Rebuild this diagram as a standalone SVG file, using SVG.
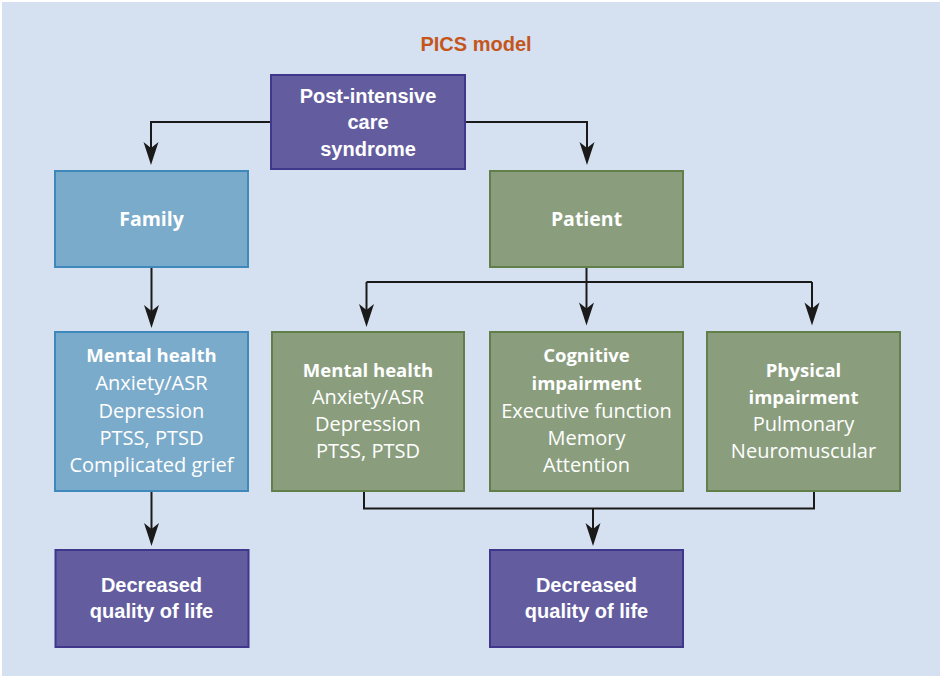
<svg xmlns="http://www.w3.org/2000/svg" width="942" height="678" viewBox="0 0 942 678">
<style>
.bg{fill:#D5E0F1}
.pur{fill:#635DA0;stroke:#3F378C;stroke-width:2}
.blu{fill:#7BABCB;stroke:#3F88BC;stroke-width:2}
.grn{fill:#8A9E7E;stroke:#627F4A;stroke-width:2}
.c{font-family:"Liberation Sans",Arial,sans-serif;font-weight:700;font-size:20px;fill:#fff;text-anchor:middle}
.h{font-family:"Open Sans","Noto Sans",sans-serif;font-weight:700;font-size:18.5px;fill:#fff;text-anchor:middle}
.hb{font-family:"Open Sans","Noto Sans",sans-serif;font-weight:700;font-size:19.5px;fill:#fff;text-anchor:middle}
.r{font-family:"Open Sans","Noto Sans",sans-serif;font-weight:400;font-size:20px;fill:#fff;text-anchor:middle}
.t{font-family:"Liberation Sans",Arial,sans-serif;font-weight:700;font-size:20px;fill:#C4561C;text-anchor:middle}
.ln{fill:none;stroke:#1A1A1A;stroke-width:2}
</style>
<defs>
<marker id="ah" markerUnits="userSpaceOnUse" viewBox="-16 -9 28 18" refX="0" refY="0" markerWidth="28" markerHeight="18" orient="auto" overflow="visible">
<path d="M10,0 Q-1,-3.5 -13,-7.5 L-7,0 L-13,7.5 Q-1,3.5 10,0 Z" fill="#1A1A1A"/>
</marker>
</defs>
<rect x="0" y="0" width="942" height="678" fill="#FFFFFF"/>
<rect class="bg" x="2" y="2" width="938" height="674"/>
<text class="t" x="476" y="51">PICS model</text>
<g id="connectors">
<path class="ln" d="M271,122 H151 V155" marker-end="url(#ah)"/>
<path class="ln" d="M465,122 H587 V155" marker-end="url(#ah)"/>
<path class="ln" d="M151.5,267 V318" marker-end="url(#ah)"/>
<path class="ln" d="M586.5,267 V282"/>
<path class="ln" d="M366.5,282 H812"/>
<path class="ln" d="M366.5,282 V317" marker-end="url(#ah)"/>
<path class="ln" d="M586.5,282 V315.5" marker-end="url(#ah)"/>
<path class="ln" d="M812,282 V315.5" marker-end="url(#ah)"/>
<path class="ln" d="M151.5,491 V536" marker-end="url(#ah)"/>
<path class="ln" d="M364,491 V508.5 H814 V491"/>
<path class="ln" d="M593,508.5 V536" marker-end="url(#ah)"/>
</g>
<g id="pics">
<rect class="pur" x="271" y="75" width="194" height="94"/>
<text class="c" x="368" y="102.5">Post-intensive</text>
<text class="c" x="368" y="129">care</text>
<text class="c" x="368" y="155.5">syndrome</text>
</g>
<g id="family">
<rect class="blu" x="55" y="171" width="193" height="96"/>
<text class="hb" x="151.5" y="226">Family</text>
</g>
<g id="patient">
<rect class="grn" x="490" y="171" width="193" height="96"/>
<text class="hb" x="586.5" y="226">Patient</text>
</g>
<g id="family-mental">
<rect class="blu" x="55" y="332" width="193" height="159"/>
<text class="h" x="151.5" y="362">Mental health</text>
<text class="r" x="151.5" y="390">Anxiety/ASR</text>
<text class="r" x="151.5" y="417.5">Depression</text>
<text class="r" x="151.5" y="444.5">PTSS, PTSD</text>
<text class="r" x="151.5" y="471.5">Complicated grief</text>
</g>
<g id="patient-mental">
<rect class="grn" x="272" y="332" width="192" height="159"/>
<text class="h" x="368" y="376.5">Mental health</text>
<text class="r" x="368" y="403.5">Anxiety/ASR</text>
<text class="r" x="368" y="431">Depression</text>
<text class="r" x="368" y="458">PTSS, PTSD</text>
</g>
<g id="cognitive">
<rect class="grn" x="490" y="332" width="193" height="159"/>
<text class="h" x="586.5" y="362">Cognitive</text>
<text class="h" x="586.5" y="390">impairment</text>
<text class="r" x="586.5" y="417.5">Executive function</text>
<text class="r" x="586.5" y="444.5">Memory</text>
<text class="r" x="586.5" y="471.5">Attention</text>
</g>
<g id="physical">
<rect class="grn" x="707" y="332" width="193" height="159"/>
<text class="h" x="803.5" y="376.5">Physical</text>
<text class="h" x="803.5" y="403.5">impairment</text>
<text class="r" x="803.5" y="431">Pulmonary</text>
<text class="r" x="803.5" y="458">Neuromuscular</text>
</g>
<g id="qol-family">
<rect class="pur" x="55.5" y="550" width="193" height="97"/>
<text class="c" x="151.5" y="591.5">Decreased</text>
<text class="c" x="151.5" y="618">quality of life</text>
</g>
<g id="qol-patient">
<rect class="pur" x="490" y="550" width="193" height="97"/>
<text class="c" x="586.5" y="591.5">Decreased</text>
<text class="c" x="586.5" y="618">quality of life</text>
</g>
</svg>
